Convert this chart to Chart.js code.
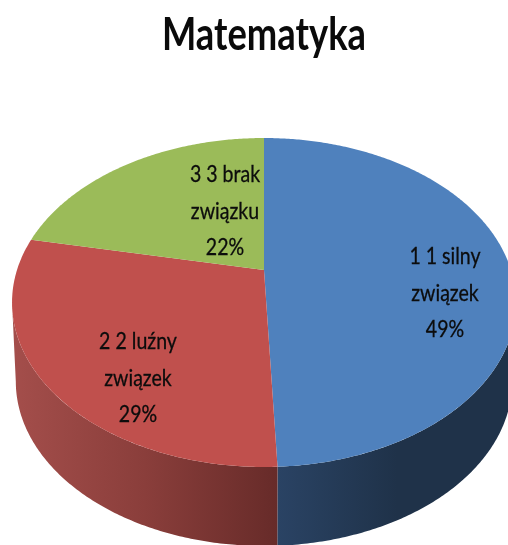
<!DOCTYPE html>
<html lang="pl">
<head>
<meta charset="utf-8">
<title>Matematyka</title>
<style>
html,body{margin:0;padding:0;background:#fff;overflow:hidden}
canvas{display:block;filter:blur(0.5px)}
</style>
<script src="https://cdn.jsdelivr.net/npm/chart.js@4"></script>
</head>
<body>
<canvas id="c" width="508" height="545"></canvas>
<script>
const categories = ["1 1 silny związek", "2 2 luźny związek", "3 3 brak związku"];
const labelLines = [["1 1 silny", "związek"], ["2 2 luźny", "związek"], ["3 3 brak", "związku"]];
const values = [49.3, 28.9, 21.8];
const topColors = ["#4f81bd", "#c0504d", "#9bbb59"];
const sideStops = [
  ["#2a4364", "#1f3249", "#1f3249"],
  ["#a44e4b", "#8a3e3b", "#672b29"],
  ["#7a9446", "#7a9446", "#7a9446"]
];

// view settings of the 3-D pie
const view = {hubX: 264, hubY: 270, spreadX: 247, spreadY: 104.7, tilt: -0.1976, depth: 79, shrink: 0.985};
const labelAnchors = [[445, 257], [138, 342], [225, 175]];
const labelFont = '23px Lato, sans-serif';
const labelSqueeze = 0.85;
const titleSqueeze = 0.79;
const linePitch = 36.5;

function project(angle, r) {
  const u = Math.cos(angle) * r, v = Math.sin(angle) * r;
  const w = 1 + view.tilt * v;
  return [view.hubX + view.spreadX * u / w, (view.spreadY * v + view.hubY) / w];
}
function arcPoints(a0, a1) {
  const n = Math.max(2, Math.ceil(Math.abs(a1 - a0) / 0.01));
  const pts = [];
  for (let i = 0; i <= n; i++) pts.push(project(a0 + (a1 - a0) * i / n, 1));
  return pts;
}

const pie3d = {
  id: 'pie3d',
  afterLayout(chart) {
    const tb = chart.titleBlock;
    if (!tb || tb._squeezed) return;
    const draw = tb.draw;
    tb.draw = function () {
      const ctx = this.ctx, cx = (this.left + this.right) / 2;
      ctx.save();
      ctx.translate(cx, 0);
      ctx.scale(titleSqueeze, 1);
      ctx.translate(-cx, 0);
      draw.apply(this, arguments);
      ctx.restore();
    };
    tb._squeezed = true;
  },
  beforeDatasetsDraw(chart) {
    const ctx = chart.ctx;
    const arcs = chart.getDatasetMeta(0).data;
    const edge = Math.asin(-view.tilt);
    ctx.save();
    arcs.forEach((el, i) => {
      const a0 = Math.max(el.startAngle, edge), a1 = Math.min(el.endAngle, Math.PI - edge);
      if (a1 <= a0) return;
      const top = arcPoints(a0, a1);
      const bottom = top.map(p => [
        view.hubX + (p[0] - view.hubX) * view.shrink,
        p[1] + view.depth
      ]).reverse();
      const g = ctx.createLinearGradient(top[top.length - 1][0], 0, top[0][0], 0);
      sideStops[i].forEach((c, k) => g.addColorStop(k / (sideStops[i].length - 1), c));
      ctx.beginPath();
      top.concat(bottom).forEach((p, k) => k ? ctx.lineTo(p[0], p[1]) : ctx.moveTo(p[0], p[1]));
      ctx.closePath();
      ctx.fillStyle = g;
      ctx.fill();
    });
    arcs.forEach((el) => {
      ctx.beginPath();
      ctx.moveTo(view.hubX, view.hubY);
      arcPoints(el.startAngle, el.endAngle).forEach(p => ctx.lineTo(p[0], p[1]));
      ctx.closePath();
      ctx.fillStyle = el.options.backgroundColor;
      ctx.fill();
    });
    ctx.restore();
    return false;
  },
  afterDraw(chart) {
    const ctx = chart.ctx;
    const sum = values.reduce((a, b) => a + b, 0);
    ctx.save();
    ctx.font = labelFont;
    ctx.fillStyle = '#0c0c0c';
    ctx.strokeStyle = '#0c0c0c';
    ctx.lineWidth = 0.3;
    ctx.textAlign = 'center';
    ctx.textBaseline = 'middle';
    labelLines.forEach((lines, i) => {
      const all = lines.concat(Math.round(values[i] / sum * 100) + '%');
      all.forEach((t, k) => {
        ctx.save();
        ctx.translate(labelAnchors[i][0], labelAnchors[i][1] + k * linePitch);
        ctx.scale(labelSqueeze, 1);
        ctx.fillText(t, 0, 0);
        ctx.strokeText(t, 0, 0);
        ctx.restore();
      });
    });
    ctx.restore();
  }
};

new Chart(document.getElementById('c'), {
  type: 'pie',
  data: {
    labels: categories,
    datasets: [{data: values, backgroundColor: topColors, borderWidth: 0}]
  },
  options: {
    responsive: false,
    animation: false,
    layout: {padding: {left: 20}},
    plugins: {
      legend: {display: false},
      tooltip: {enabled: false},
      title: {
        display: true,
        text: 'Matematyka',
        color: '#0a0a0a',
        font: {family: 'Lato, sans-serif', size: 46, weight: 'bold'},
        padding: {top: 8, bottom: 20}
      }
    }
  },
  plugins: [pie3d]
});
</script>
</body>
</html>
